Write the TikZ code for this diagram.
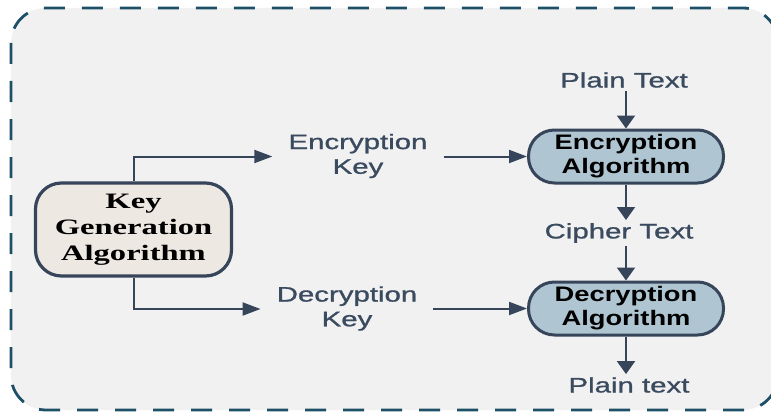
\documentclass[tikz,border=0pt]{standalone}
\usepackage{graphicx}
\usepackage{fontspec}
\setmainfont{Liberation Sans}
\newfontfamily\kgfont{Liberation Serif}
\newfontfamily\medfont[FakeBold=0.9]{Liberation Sans}
\usetikzlibrary{arrows.meta}
\definecolor{slate}{HTML}{36455A}
\definecolor{frame}{HTML}{1D4F66}
\definecolor{bgc}{HTML}{F1F1F1}
\definecolor{kgfill}{HTML}{EEE8E2}
\definecolor{pillfill}{HTML}{AFC6D2}
\definecolor{labc}{HTML}{3A4A5F}
\newcommand{\wx}[2]{\scalebox{#1}[1]{#2}}
\newcommand{\twol}[2]{\begin{tabular}{@{}c@{}}#1\\#2\end{tabular}}
\tikzset{
  lbl/.style={inner xsep=16pt, inner ysep=3pt, text=labc, font=\fontsize{21}{26}\selectfont\medfont},
  pillbox/.style={draw=slate, line width=3pt, fill=pillfill, rounded corners=26pt,
    minimum width=195pt, minimum height=53pt, inner sep=0pt,
    font=\fontsize{21}{26}\selectfont\bfseries},
  kgbox/.style={draw=slate, line width=3.2pt, fill=kgfill, rounded corners=26pt,
    minimum width=196pt, minimum height=93pt, inner sep=0pt,
    font=\fontsize{22}{27}\selectfont\kgfont\bfseries},
  harr/.style={draw=slate, line width=2pt, -{Triangle[length=18pt,width=13pt]}},
  varr/.style={draw=slate, line width=2pt, -{Triangle[length=13pt,width=18pt]}},
}
\begin{document}
\begin{tikzpicture}[x=1pt,y=-1pt]
\useasboundingbox (0,0) rectangle (771,412);
\begin{scope}
\clip (0,0) rectangle (771,412);
\draw[frame, fill=bgc, line width=2.8pt, dash pattern=on 21pt off 17pt, rounded corners=35pt]
  (11,8) rectangle (778,410);
\end{scope}

\node[kgbox] (kg) at (133.5,229.5) {\wx{1.48}{\renewcommand{\arraystretch}{0.97}\begin{tabular}{@{}c@{}}Key\\Generation\\Algorithm\end{tabular}}};

\node[pillbox] (ea) at (626,156.5) {\wx{1.3}{\renewcommand{\arraystretch}{0.95}\twol{Encryption}{Algorithm}}};
\node[pillbox] (da) at (626,308.5) {\wx{1.3}{\renewcommand{\arraystretch}{0.95}\twol{Decryption}{Algorithm}}};

\node[lbl] (ptx) at (624,80) {\wx{1.4}{Plain Text}};
\node[lbl] (ct) at (619,233) {\wx{1.4}{Cipher Text}};
\node[lbl] (pto) at (629,385) {\wx{1.4}{Plain text}};
\node[lbl] (ek) at (358,156.5) {\wx{1.4}{\renewcommand{\arraystretch}{0.95}\twol{Encryption}{Key}}};
\node[lbl] (dk) at (347,309) {\wx{1.4}{\renewcommand{\arraystretch}{0.95}\twol{Decryption}{Key}}};

\draw[harr] (kg.north) |- (ek.west);
\draw[harr] (kg.south) |- (dk.west);
\draw[harr] (ek.east) -- (ea.west);
\draw[harr] (dk.east |- da.west) -- (da.west);
\draw[varr] (ea.north |- ptx.south) -- (ea.north);
\draw[varr] (ea.south) -- (ea.south |- ct.north);
\draw[varr] (da.north |- ct.south) -- (da.north);
\draw[varr] (da.south) -- (da.south |- pto.north);
\end{tikzpicture}
\end{document}
